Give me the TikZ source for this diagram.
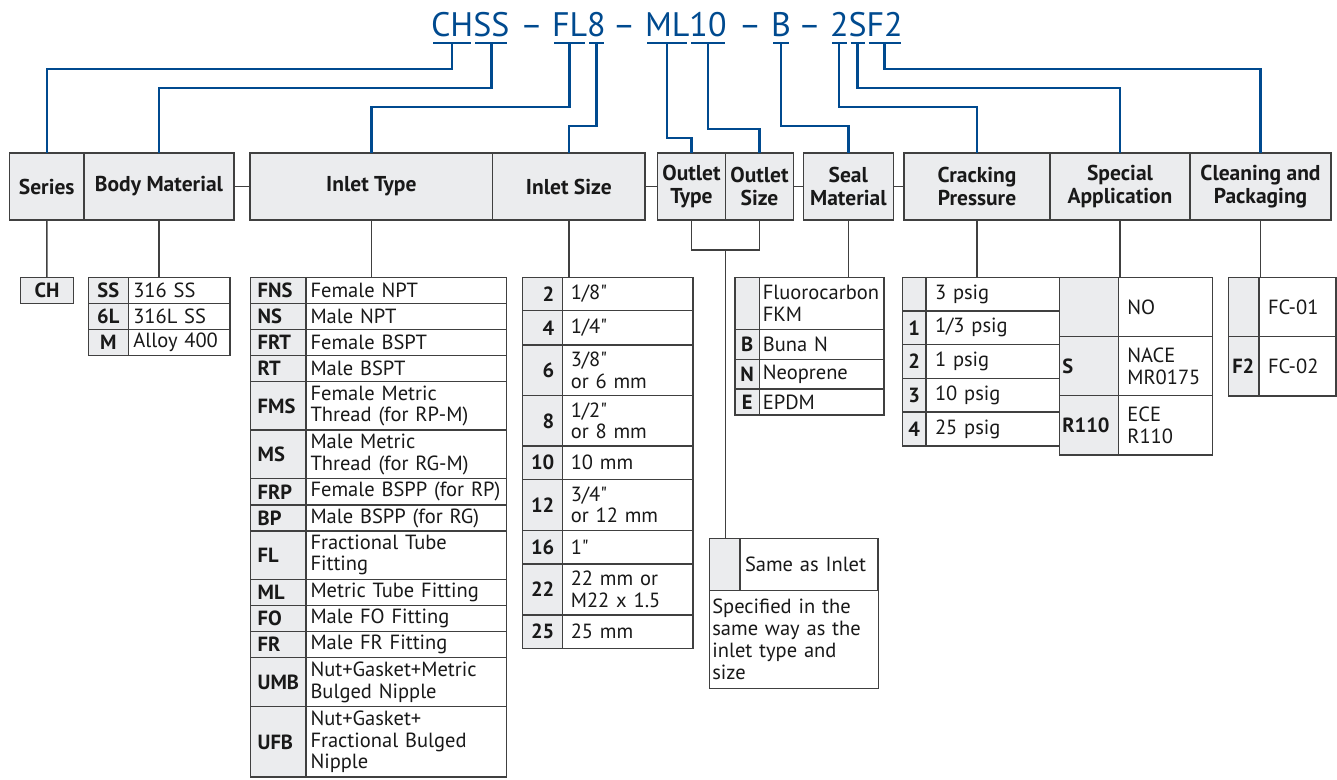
\documentclass[tikz,border=0pt]{standalone}
\usepackage{fontspec}
\setmainfont{PT Sans}[Ligatures=TeXOff]
\usepackage{xcolor}
\usepackage{tikz}
\usetikzlibrary{positioning}

\definecolor{codeblue}{RGB}{0,74,143}
\definecolor{linegray}{RGB}{64,64,64}
\definecolor{cellgray}{RGB}{235,236,238}

\newcommand{\bodysize}{\fontsize{20.5}{21.5}\selectfont}
\newcommand{\headsize}{\fontsize{21.5}{23}\selectfont}
\def\codepad{5}
\def\descpad{6}

% one table row: [code align]{name}{top left}{code width}{text width}{height}{code}{text}
\newcommand{\optrow}[8][left]{%
  \pgfmathsetmacro\codetw{#4-2*\codepad}%
  \pgfmathsetmacro\desctw{#5-2*\descpad}%
  \node[codecell, align=#1, text width=\codetw pt, minimum height=#6pt] (#2) at (#3) {#7};%
  \node[desccell, text width=\desctw pt, minimum height=#6pt] (#2d) at (#2.north east) {#8};%
}

\begin{document}
\begin{tikzpicture}[
  x=1pt, y=-1pt,
  codetxt/.style={font=\fontsize{34}{34}\selectfont, text=codeblue, inner sep=0pt, outer sep=0pt},
  codeline/.style={draw=codeblue, line width=2.4pt},
  tableline/.style={draw=linegray, line width=1.5pt},
  header/.style={draw=linegray, line width=1.5pt, fill=cellgray, font=\headsize\bfseries, text=black!90, align=center, minimum height=67pt, inner sep=0pt, outer sep=0pt},
  codecell/.style={draw=linegray, line width=1.5pt, fill=cellgray, font=\bodysize\bfseries, text=black!90, inner xsep=\codepad pt, inner ysep=0pt, outer sep=0pt, anchor=north west},
  desccell/.style={draw=linegray, line width=1.5pt, fill=white, font=\bodysize, text=black!90, align=left, inner xsep=\descpad pt, inner ysep=0pt, outer sep=0pt, anchor=north west}
]
\useasboundingbox (0,0) rectangle (1337,779);

% Ordering code
\node[codetxt, anchor=base west] (tCH) at (431,36) {CH};
\node[codetxt, base right=0pt of tCH] (tSS) {SS};
\node[codetxt, anchor=base] (d1) at (531.5,36) {–};
\node[codetxt, anchor=base west] (tFL) at (552,36) {FL};
\node[codetxt, base right=0pt of tFL] (t8) {8};
\node[codetxt, anchor=base] (d2) at (624,36) {–};
\node[codetxt, anchor=base west] (tML) at (645,36) {ML};
\node[codetxt, base right=0pt of tML] (t10) {10};
\node[codetxt, anchor=base] (d3) at (750,36) {–};
\node[codetxt, anchor=base west] (tB) at (771,36) {B};
\node[codetxt, anchor=base] (d4) at (809.5,36) {–};
\node[codetxt, anchor=base west] (t2) at (830,36) {2};
\node[codetxt, base right=0pt of t2] (tS) {S};
\node[codetxt, base right=0pt of tS] (tF2) {F2};

% Header boxes
\node[header, minimum width=74.5pt] (series) at (46.75,186.5) {Series};
\node[header, minimum width=150pt, right=0pt of series] (bodymat) {Body Material};
\node[header, minimum width=242.7pt, right=16pt of bodymat] (inlettype) {Inlet Type};
\node[header, minimum width=152.3pt, right=0pt of inlettype] (inletsize) {Inlet Size};
\node[header, minimum width=68.4pt, right=12.3pt of inletsize] (outlettype) {Outlet\\Type};
\node[header, minimum width=67.6pt, right=0pt of outlettype] (outletsize) {Outlet\\Size};
\node[header, minimum width=90pt, right=10pt of outletsize] (sealmat) {Seal\\Material};
\node[header, minimum width=146pt, right=10.7pt of sealmat] (crackp) {Cracking\\Pressure};
\node[header, minimum width=140pt, right=0pt of crackp] (specapp) {Special\\Application};
\node[header, minimum width=141pt, right=0pt of specapp] (cleanpack) {Cleaning and\\Packaging};

\draw[tableline] (bodymat.east) -- (inlettype.west);
\draw[tableline] (inletsize.east) -- (outlettype.west);
\draw[tableline] (outletsize.east) -- (sealmat.west);
\draw[tableline] (sealmat.east) -- (crackp.west);

% Code parts to headers
\foreach \part/\hdr/\drop in {tCH/series/26, tSS/bodymat/45, tFL/inlettype/64, t8/inletsize/83, tML/outlettype/95, t10/outletsize/86, tB/sealmat/83, t2/crackp/64, tS/specapp/45, tF2/cleanpack/26}{
  \draw[codeline] ([xshift=2pt,yshift=-7pt]\part.base west) -- ([xshift=-2pt,yshift=-7pt]\part.base east);
  \draw[codeline] ([yshift=-7pt]\part.base) -- ++(0,\drop) -| (\hdr.north);
}

% Series
\node[codecell, align=center, text width=42.6pt, minimum height=26pt] (ch) at (20.7,277.3) {CH};
\draw[tableline] (series.south) -- (ch.north);

% Body material
\def\codepad{5}\def\descpad{5}
\optrow[center]{ss}{88.3,277.3}{40}{101.7}{26}{SS}{316 SS}
\optrow[center]{sixl}{ss.south west}{40}{101.7}{26}{6L}{316L SS}
\optrow[center]{mon}{sixl.south west}{40}{101.7}{26}{M}{Alloy 400}
\draw[tableline] (bodymat.south) -- (bodymat.south |- ss.north);

% Inlet type
\def\codepad{7}\def\descpad{4.5}
\optrow{fns}{250.7,277.3}{55.3}{200.3}{26}{FNS}{Female NPT}
\optrow{ns}{fns.south west}{55.3}{200.3}{26}{NS}{Male NPT}
\optrow{frt}{ns.south west}{55.3}{200.3}{26}{FRT}{Female BSPT}
\optrow{rt}{frt.south west}{55.3}{200.3}{26.4}{RT}{Male BSPT}
\optrow{fms}{rt.south west}{55.3}{200.3}{48.5}{FMS}{Female Metric\\Thread (for RP-M)}
\optrow{ms}{fms.south west}{55.3}{200.3}{48.3}{MS}{Male Metric\\Thread (for RG-M)}
\optrow{frp}{ms.south west}{55.3}{200.3}{26.5}{FRP}{Female BSPP (for RP)}
\optrow{bp}{frp.south west}{55.3}{200.3}{26}{BP}{Male BSPP (for RG)}
\optrow{fl}{bp.south west}{55.3}{200.3}{48.3}{FL}{Fractional Tube\\Fitting}
\optrow{ml}{fl.south west}{55.3}{200.3}{26.4}{ML}{Metric Tube Fitting}
\optrow{fo}{ml.south west}{55.3}{200.3}{26}{FO}{Male FO Fitting}
\optrow{fr}{fo.south west}{55.3}{200.3}{26}{FR}{Male FR Fitting}
\optrow{umb}{fr.south west}{55.3}{200.3}{49}{UMB}{Nut+Gasket+Metric\\Bulged Nipple}
\optrow{ufb}{umb.south west}{55.3}{200.3}{70.3}{UFB}{Nut+Gasket+\\Fractional Bulged\\Nipple}
\draw[tableline] (inlettype.south) -- (inlettype.south |- fns.north);

% Inlet size
\def\codepad{8}\def\descpad{8.5}
\optrow[right]{sz2}{522.7,277.3}{39.6}{130.7}{33.4}{2}{1/8"}
\optrow[right]{sz4}{sz2.south west}{39.6}{130.7}{34.3}{4}{1/4"}
\optrow[right]{sz6}{sz4.south west}{39.6}{130.7}{50.7}{6}{3/8"\\or 6 mm}
\optrow[right]{sz8}{sz6.south west}{39.6}{130.7}{50.3}{8}{1/2"\\or 8 mm}
\optrow[right]{sz10}{sz8.south west}{39.6}{130.7}{33.3}{10}{10 mm}
\optrow[right]{sz12}{sz10.south west}{39.6}{130.7}{51.4}{12}{3/4"\\or 12 mm}
\optrow[right]{sz16}{sz12.south west}{39.6}{130.7}{33.3}{16}{1"}
\optrow[right]{sz22}{sz16.south west}{39.6}{130.7}{51}{22}{22 mm or\\M22 x 1.5}
\optrow[right]{sz25}{sz22.south west}{39.6}{130.7}{33.3}{25}{25 mm}
\draw[tableline] (inletsize.south) -- (inletsize.south |- sz2.north);

% Outlet type and size
\def\codepad{3}\def\descpad{5}
\optrow{same}{709.3,538.3}{30.7}{138}{52.3}{}{Same as Inlet}
\node[desccell, font=\fontsize{20.5}{22}\selectfont, inner xsep=3pt, text width=163pt, minimum height=98pt] (samenote) at (same.south west) {Specified in the\\same way as the\\inlet type and\\size};
\coordinate (outjoin) at ([yshift=-30pt]outlettype.south east);
\draw[tableline] (outlettype.south) |- (outjoin) -| (outletsize.south);
\draw[tableline] (outjoin) -- (outjoin |- same.north);

% Seal material
\def\codepad{3}\def\descpad{3.5}
\optrow[center]{fkm}{735,277.3}{24.3}{124.7}{52}{}{Fluorocarbon\\FKM}
\optrow[center]{buna}{fkm.south west}{24.3}{124.7}{30}{B}{Buna N}
\optrow[center]{neo}{buna.south west}{24.3}{124.7}{29.7}{N}{Neoprene}
\optrow[center]{epdm}{neo.south west}{24.3}{124.7}{26}{E}{EPDM}
\draw[tableline] (sealmat.south) -- (sealmat.south |- fkm.north);

% Cracking pressure
\def\codepad{3}\def\descpad{9}
\optrow[center]{cp0}{902.3,277.3}{23.7}{139.4}{33.7}{}{3 psig}
\optrow[center]{cp1}{cp0.south west}{23.7}{139.4}{33.7}{1}{1/3 psig}
\optrow[center]{cp2}{cp1.south west}{23.7}{139.4}{33.7}{2}{1 psig}
\optrow[center]{cp3}{cp2.south west}{23.7}{139.4}{33.7}{3}{10 psig}
\optrow[center]{cp4}{cp3.south west}{23.7}{139.4}{33.7}{4}{25 psig}
\draw[tableline] (crackp.south) -- (crackp.south |- cp0.north);

% Special application
\def\codepad{3}\def\descpad{9}
\optrow{sa0}{1059.3,277.3}{59}{94.4}{59.2}{}{NO}
\optrow{sa1}{sa0.south west}{59}{94.4}{59.2}{S}{NACE\\MR0175}
\optrow{sa2}{sa1.south west}{59}{94.4}{59.2}{R110}{ECE\\R110}
\draw[tableline] (specapp.south) -- (specapp.south |- sa0.north);

% Cleaning and packaging
\def\codepad{4}\def\descpad{9}
\optrow{cl0}{1228.3,277.3}{30.7}{77}{59.3}{}{FC-01}
\optrow{cl1}{cl0.south west}{30.7}{77}{59.3}{F2}{FC-02}
\draw[tableline] (cleanpack.south) -- (cleanpack.south |- cl0.north);

\end{tikzpicture}
\end{document}
